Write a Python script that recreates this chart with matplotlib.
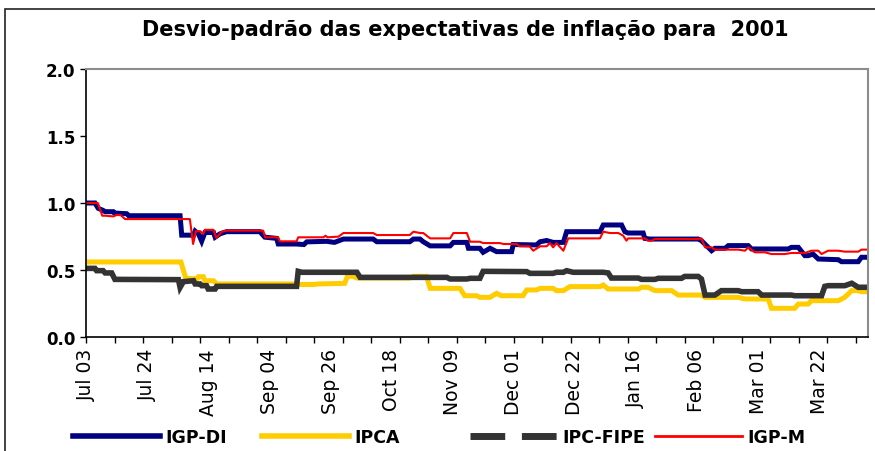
import matplotlib
matplotlib.use('Agg')
from matplotlib import pyplot as plt
from matplotlib.lines import Line2D
from matplotlib.patches import Rectangle

# business-day index (0 = Jul 03) and value for each series
igpdi_x = [0, 2.2, 3.0, 4.2, 4.7, 6.7, 7, 10, 10.5, 23.1, 23.5, 26.4, 26.8, 27.6, 28.4, 29.2, 31.3, 31.7, 32.9, 34.5,
           42.7, 43.9, 46.8, 47.2, 51.7, 53.5, 54.2, 59.1, 61, 63.2, 70.5, 71.4, 79.5, 80.4, 82, 82.8, 84.5, 89.4,
           90.2, 93.5, 93.9, 96.7, 97.5, 99.2, 100.8, 104.5, 104.9, 110.6, 111.5, 113.1, 114.7, 117.2, 118, 126.2,
           127, 131.5, 132.3, 133.1, 136.8, 137.2, 138.4, 150.3, 151.1, 153.6, 154.4, 156.9, 157.7, 162.6, 163.4,
           172.4, 173.2, 174.9, 176.5, 177.3, 178.5, 179.8, 184.7, 185.5, 189.6, 190.4, 192]
igpdi_y = [1.0, 1.0, 0.96, 0.945, 0.935, 0.935, 0.925, 0.92, 0.905, 0.905, 0.76, 0.76, 0.79, 0.77, 0.715, 0.78, 0.78,
           0.745, 0.77, 0.786, 0.786, 0.745, 0.736, 0.694, 0.694, 0.69, 0.71, 0.714, 0.706, 0.731, 0.731, 0.711,
           0.711, 0.731, 0.731, 0.711, 0.68, 0.68, 0.706, 0.706, 0.662, 0.662, 0.632, 0.662, 0.637, 0.637, 0.69,
           0.687, 0.711, 0.72, 0.706, 0.706, 0.786, 0.786, 0.836, 0.836, 0.786, 0.776, 0.776, 0.736, 0.731, 0.731,
           0.719, 0.644, 0.662, 0.662, 0.682, 0.682, 0.657, 0.657, 0.669, 0.669, 0.607, 0.607, 0.619, 0.582, 0.577,
           0.562, 0.562, 0.595, 0.595]

ipca_x = [0, 23.3, 24.5, 27.2, 27.6, 28.8, 29.2, 31.3, 32.1, 51.7, 52.1, 56, 57, 63.5, 64.2, 65.5, 66.5, 79.5, 80.4,
          83.6, 84.5, 91.8, 93, 95.9, 96.7, 99.2, 100.8, 102, 107.3, 108.2, 110.6, 111.5, 114.7, 115.5, 117.2, 118.8,
          126.2, 127, 128.2, 135.6, 136.4, 138, 139.7, 143.8, 145.4, 151.1, 152, 160.1, 161.8, 167.5, 168.3, 174,
          174.9, 177.3, 178.1, 184.7, 186.3, 188, 189.6, 190.4, 192]
ipca_y = [0.56, 0.56, 0.438, 0.433, 0.45, 0.45, 0.42, 0.42, 0.396, 0.396, 0.392, 0.392, 0.396, 0.40, 0.453, 0.453,
          0.44, 0.44, 0.453, 0.453, 0.363, 0.363, 0.308, 0.308, 0.296, 0.296, 0.326, 0.308, 0.308, 0.351, 0.351,
          0.363, 0.363, 0.346, 0.346, 0.376, 0.376, 0.388, 0.358, 0.358, 0.371, 0.371, 0.346, 0.346, 0.313, 0.313,
          0.296, 0.296, 0.284, 0.284, 0.214, 0.214, 0.246, 0.246, 0.271, 0.271, 0.296, 0.346, 0.346, 0.338, 0.338]

ipcfipe_x = [0, 2.2, 2.6, 4.2, 4.7, 6.3, 7.1, 22.7, 23.1, 23.9, 26.4, 26.8, 28.0, 28.4, 29.6, 30.0, 31.7, 32.1, 51.7,
             52.1, 53, 66.5, 67.3, 88.6, 89.4, 93.5, 94.3, 96.7, 97.5, 108.2, 109, 114.7, 115.5, 117.2, 118, 119.6,
             127, 128.2, 129, 135.6, 136.4, 139.7, 140.5, 146.2, 147, 150.3, 151.1, 152, 154.4, 156, 160.1, 161, 165,
             165.9, 173.2, 174, 180.6, 181.4, 182.2, 186.3, 188, 189.6, 192]
ipcfipe_y = [0.512, 0.512, 0.495, 0.495, 0.478, 0.478, 0.43, 0.428, 0.37, 0.413, 0.42, 0.396, 0.396, 0.383, 0.383,
             0.358, 0.358, 0.378, 0.378, 0.49, 0.483, 0.483, 0.445, 0.445, 0.433, 0.433, 0.438, 0.438, 0.49, 0.488,
             0.475, 0.475, 0.483, 0.483, 0.495, 0.483, 0.483, 0.478, 0.44, 0.44, 0.43, 0.43, 0.438, 0.438, 0.452,
             0.452, 0.433, 0.313, 0.313, 0.346, 0.346, 0.338, 0.338, 0.313, 0.313, 0.308, 0.308, 0.378, 0.383, 0.383,
             0.401, 0.371, 0.371]

igpm_x = [0, 2.9, 4.0, 4.7, 6.7, 7.5, 8.5, 9.6, 25.5, 26.3, 27, 28, 28.8, 29.2, 31.3, 32, 33.3, 34.5, 43.5, 44, 47.2,
          47.6, 51.7, 52.1, 58.3, 58.8, 59.3, 62, 63.2, 70.5, 71.4, 79.5, 80.4, 82, 82.8, 84.5, 89.4, 90.2, 93.5,
          94.3, 96.7, 97.5, 101.6, 102.5, 105.7, 106.5, 108.9, 109.8, 111.5, 113.1, 113.9, 114.7, 115.5, 117.2,
          118.4, 126.2, 127, 128.6, 130.7, 131.9, 132.7, 133.1, 137.2, 138, 138.9, 139.7, 150.3, 151.1, 152, 153.6,
          154.4, 160.1, 161.8, 162.6, 164.2, 166.7, 168.3, 171.6, 173.2, 176.5, 178.1, 179.8, 180.6, 182.2, 184.7,
          186.3, 189.6, 190.4, 192]
igpm_y = [1.0, 1.0, 0.905, 0.905, 0.9, 0.91, 0.91, 0.88, 0.88, 0.694, 0.79, 0.79, 0.77, 0.8, 0.8, 0.74, 0.785, 0.794,
          0.794, 0.744, 0.744, 0.714, 0.714, 0.744, 0.744, 0.756, 0.744, 0.749, 0.776, 0.776, 0.761, 0.761, 0.786,
          0.776, 0.776, 0.736, 0.736, 0.776, 0.776, 0.711, 0.711, 0.701, 0.701, 0.694, 0.694, 0.677, 0.677, 0.644,
          0.677, 0.677, 0.701, 0.669, 0.701, 0.644, 0.736, 0.736, 0.786, 0.776, 0.776, 0.756, 0.719, 0.736, 0.736,
          0.719, 0.719, 0.731, 0.731, 0.736, 0.669, 0.669, 0.652, 0.652, 0.644, 0.669, 0.632, 0.632, 0.619, 0.619,
          0.627, 0.627, 0.644, 0.644, 0.619, 0.644, 0.644, 0.637, 0.637, 0.652, 0.652]

label_pos = list(range(0, 181, 15))
labels = ['Jul 03', 'Jul 24', 'Aug 14', 'Sep 04', 'Sep 26', 'Oct 18', 'Nov 09', 'Dec 01', 'Dec 22', 'Jan 16',
          'Feb 06', 'Mar 01', 'Mar 22']
names = ['IGP-DI', 'IPCA', 'IPC-FIPE', 'IGP-M']

plt.rcParams['font.family'] = 'DejaVu Sans'

fig = plt.figure(figsize=(8.75, 4.52), dpi=100)
ax = fig.add_axes([86 / 875, 1 - 338 / 452, 782 / 875, 268 / 452])

# outer chart frame
fig.patches.append(Rectangle((5 / 875, -0.1), 1.2, 1 - 10 / 452 + 0.1, transform=fig.transFigure,
                             fill=False, edgecolor='#222222', linewidth=1.2))

ax.plot(igpdi_x, igpdi_y, color='#000080', linewidth=3.6, solid_joinstyle='miter')
ax.plot(ipca_x, ipca_y, color='#FFCC00', linewidth=3.6, solid_joinstyle='miter')
ax.plot(ipcfipe_x, ipcfipe_y, color='#333333', linewidth=4.0, solid_joinstyle='miter')
ax.plot(igpm_x, igpm_y, color='#FF0000', linewidth=1.5)

ax.set_xlim(0, 192)
ax.set_ylim(0, 2.0)
ax.set_yticks([0, 0.5, 1.0, 1.5, 2.0])
ax.set_yticklabels(['%.1f' % v for v in [0, 0.5, 1.0, 1.5, 2.0]], fontweight='bold', fontsize=12)
ax.xaxis.remove_overlapping_locs = False
ax.set_xticks(range(0, 193, 7))
ax.set_xticklabels([])
ax.set_xticks(label_pos, labels=labels, minor=True)
ax.tick_params(axis='x', which='minor', length=0, pad=8, labelsize=13.5, labelrotation=90)
ax.tick_params(axis='both', which='major', length=4, width=1, direction='out', color='black')

for side in ['left', 'bottom']:
    ax.spines[side].set_color('black')
    ax.spines[side].set_linewidth(1.2)
for side in ['top', 'right']:
    ax.spines[side].set_color('#8c8c8c')
    ax.spines[side].set_linewidth(1.5)

fig.text(0.532, 1 - 30 / 452, 'Desvio-padrão das expectativas de inflação para  2001', ha='center', va='center',
         fontsize=15, fontweight='bold')

handles = [Line2D([], [], color='#000080', linewidth=4),
           Line2D([], [], color='#FFCC00', linewidth=4),
           Line2D([], [], color='#333333', linewidth=5, dashes=(5.0, 2.4), dash_capstyle='butt'),
           Line2D([], [], color='#FF0000', linewidth=2)]
# legend entries sit at uneven spacing, so place each one on its own
entry_x = [73, 262, 470, 655]
for h, name, x0 in zip(handles, names, entry_x):
    fig.legend([h], [name], loc='center left', bbox_to_anchor=(x0 / 875, 1 - 438 / 452), frameon=False,
               prop={'weight': 'bold', 'size': 12.5}, handlelength=5.0, handletextpad=0.3,
               borderpad=0, borderaxespad=0)

fig.savefig('out.png', dpi=100)
